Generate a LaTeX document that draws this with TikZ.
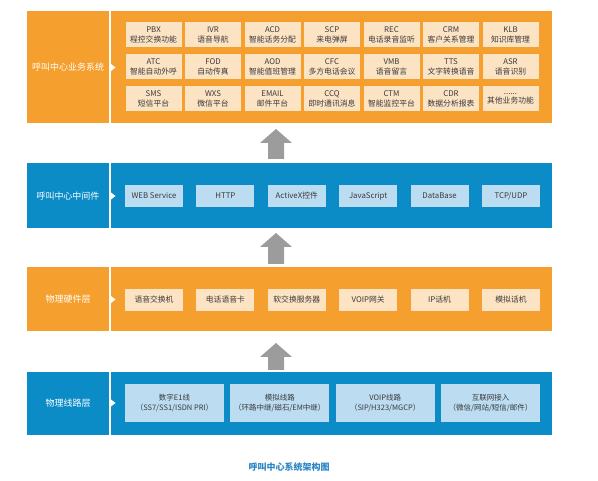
\documentclass[tikz,border=0pt]{standalone}
\usepackage{fontspec}
\setmainfont{Noto Sans CJK SC}
\definecolor{bandorange}{HTML}{F5A02E}
\definecolor{bandblue}{HTML}{0B8CC7}
\definecolor{cellorange}{HTML}{FCE3C3}
\definecolor{cellblue}{HTML}{BCDDF1}
\definecolor{celltext}{HTML}{3A3A3A}
\definecolor{arrowgray}{HTML}{9C9C9C}
\definecolor{titleblue}{HTML}{2B86C5}
\begin{document}
\begin{tikzpicture}[x=1pt,y=-1pt,
  cell/.style={inner sep=0pt, align=center, text=celltext, font=\fontsize{7.8}{9.4}\selectfont},
  bizcell/.style={cell, fill=cellorange, minimum width=56pt, minimum height=25pt},
  midcell/.style={cell, fill=cellblue, minimum width=58pt, minimum height=22pt},
  hwcell/.style={cell, fill=cellorange, minimum width=58pt, minimum height=22pt},
  linecell/.style={cell, fill=cellblue, minimum width=99pt, minimum height=38pt, font=\fontsize{7.5}{9.4}\selectfont},
  layername/.style={text=white, font=\fontsize{9}{10}\selectfont}]
  \useasboundingbox[fill=white] (0,0) rectangle (598,481);

  % business layer
  \fill[bandorange] (27,11) rectangle (552,123);
  \draw[white, line width=2pt] (110,11) -- (110,123);
  \fill[white] (111,64) -- (115.5,67.5) -- (111,71) -- cycle;
  \node[layername] (bizname) at (68,67) {呼叫中心业务系统};
  \node[bizcell] (pbx) at (153.5,35) {PBX\\程控交换功能};
  \node[bizcell] (ivr) at (213,35) {IVR\\语音导航};
  \node[bizcell] (acd) at (272.5,35) {ACD\\智能话务分配};
  \node[bizcell] (scp) at (332,35) {SCP\\来电弹屏};
  \node[bizcell] (rec) at (391.5,35) {REC\\电话录音监听};
  \node[bizcell] (crm) at (451,35) {CRM\\客户关系管理};
  \node[bizcell] (klb) at (510.5,35) {KLB\\知识库管理};
  \node[bizcell] (atc) at (153.5,67) {ATC\\智能自动外呼};
  \node[bizcell] (fod) at (213,67) {FOD\\自动传真};
  \node[bizcell] (aod) at (272.5,67) {AOD\\智能值班管理};
  \node[bizcell] (cfc) at (332,67) {CFC\\多方电话会议};
  \node[bizcell] (vmb) at (391.5,67) {VMB\\语音留言};
  \node[bizcell] (tts) at (451,67) {TTS\\文字转换语音};
  \node[bizcell] (asr) at (510.5,67) {ASR\\语音识别};
  \node[bizcell] (sms) at (153.5,99) {SMS\\短信平台};
  \node[bizcell] (wxs) at (213,99) {WXS\\微信平台};
  \node[bizcell] (email) at (272.5,99) {EMAIL\\邮件平台};
  \node[bizcell] (ccq) at (332,99) {CCQ\\即时通讯消息};
  \node[bizcell] (ctm) at (391.5,99) {CTM\\智能监控平台};
  \node[bizcell] (cdr) at (451,99) {CDR\\数据分析报表};
  \node[bizcell] (other) at (510.5,99) {......\\其他业务功能};

  \fill[arrowgray] (268,159) -- (268,143) -- (260,143) -- (276,129) -- (292,143) -- (284,143) -- (284,159) -- cycle;

  % middleware layer
  \fill[bandblue] (27,163) rectangle (552,228);
  \draw[white, line width=2pt] (110,163) -- (110,228);
  \fill[white] (111,192.5) -- (115.5,196) -- (111,199.5) -- cycle;
  \node[layername] (midname) at (68,196) {呼叫中心中间件};
  \node[midcell] (web) at (154,196) {WEB Service};
  \node[midcell] (http) at (225.4,196) {HTTP};
  \node[midcell] (activex) at (296.8,196) {ActiveX控件};
  \node[midcell] (js) at (368.2,196) {JavaScript};
  \node[midcell] (db) at (439.6,196) {DataBase};
  \node[midcell] (tcp) at (511,196) {TCP/UDP};

  \fill[arrowgray] (268,264) -- (268,247) -- (260,247) -- (276,233) -- (292,247) -- (284,247) -- (284,264) -- cycle;

  % hardware layer
  \fill[bandorange] (27,267) rectangle (552,331);
  \draw[white, line width=2pt] (110,267) -- (110,331);
  \fill[white] (111,296) -- (115.5,299.5) -- (111,303) -- cycle;
  \node[layername] (hwname) at (68,299) {物理硬件层};
  \node[hwcell] (switch) at (154,300) {语音交换机};
  \node[hwcell] (card) at (225.4,300) {电话语音卡};
  \node[hwcell] (softsw) at (296.8,300) {软交换服务器};
  \node[hwcell] (gateway) at (368.2,300) {VOIP网关};
  \node[hwcell] (ipphone) at (439.6,300) {IP话机};
  \node[hwcell] (analog) at (511,300) {模拟话机};

  \fill[arrowgray] (268,370) -- (268,357) -- (260,357) -- (276,343) -- (292,357) -- (284,357) -- (284,370) -- cycle;

  % line layer
  \fill[bandblue] (27,372) rectangle (552,435);
  \draw[white, line width=2pt] (110,372) -- (110,435);
  \fill[white] (111,399.5) -- (115.5,403) -- (111,406.5) -- cycle;
  \node[layername] (linename) at (68,403) {物理线路层};
  \node[linecell] (e1) at (174.5,403) {数字E1线\\（SS7/SS1/ISDN PRI）};
  \node[linecell] (analogline) at (279.8,403) {模拟线路\\（环路中继/磁石/EM中继）};
  \node[linecell] (voipline) at (385.2,403) {VOIP线路\\（SIP/H323/MGCP）};
  \node[linecell] (internet) at (490.5,403) {互联网接入\\（微信/网站/短信/邮件）};

  \node[text=titleblue, font=\fontsize{9}{10}\selectfont\bfseries] (title) at (289,467) {呼叫中心系统架构图};
\end{tikzpicture}
\end{document}
